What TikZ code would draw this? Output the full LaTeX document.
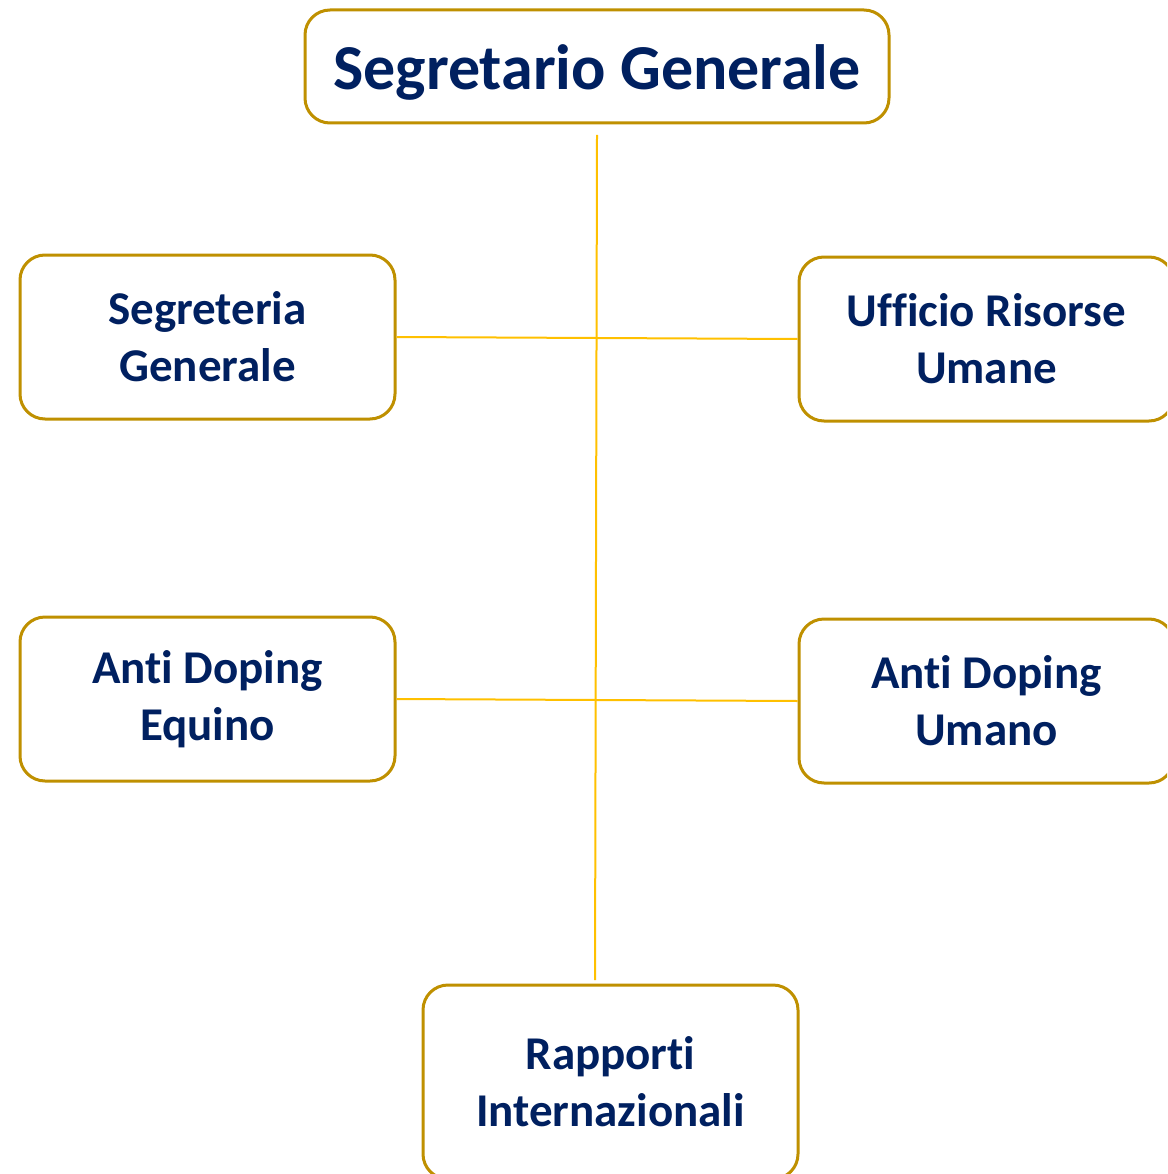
\documentclass[tikz,border=0pt]{standalone}
\usepackage{fontspec}
\setmainfont{Carlito}[Ligatures=NoCommon]
\usepackage{xcolor}
\definecolor{navy}{HTML}{002060}
\definecolor{boxgold}{HTML}{BF9000}
\definecolor{linegold}{HTML}{FFC000}

\begin{document}
\begin{tikzpicture}[x=1pt,y=-1pt,
  plainbox/.style={draw=boxgold,line width=3pt,rounded corners=25pt,fill=white,text=navy,
    inner sep=0pt},
  orgbox/.style={plainbox,font=\fontsize{47}{57}\selectfont\bfseries,align=center,
    minimum width=375pt,minimum height=164pt},
  link/.style={draw=linegold,line width=2pt}]
\useasboundingbox (0,0) rectangle (1167,1174);
\clip (0,0) rectangle (1167,1174);
% boxes
\node[plainbox,minimum width=584pt,minimum height=113pt,text height=47pt,text depth=0pt,
  font=\fontsize{64}{70}\selectfont\bfseries] (sg) at (597,66.5) {Segretario Generale};
\node[orgbox] (segr) at (207.5,337) {Segreteria\\Generale};
\node[orgbox] (uff) at (986.5,339) {Ufficio Risorse\\Umane};
\node[orgbox] (adeq) at (207.5,699) {Anti Doping\\Equino};
\node[orgbox] (aduma) at (986.5,701) {Anti Doping\\Umano};
\node[orgbox,minimum height=194pt] (rapp) at (610.5,1082) {Rapporti\\Internazionali};
% connectors
\coordinate (trunktop) at (597,135);
\coordinate (trunkbot) at (595,980);
\draw[link] (trunktop) -- (trunkbot);
\draw[link] (segr.east) -- (uff.west);
\draw[link] (adeq.east) -- (aduma.west);
\end{tikzpicture}
\end{document}
